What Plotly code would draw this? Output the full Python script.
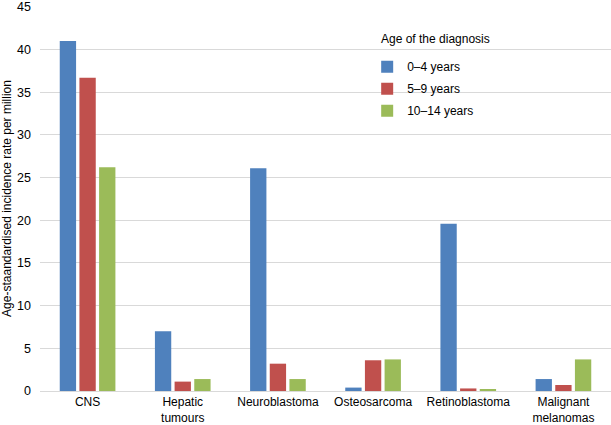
import plotly.graph_objects as go

categories = ["CNS", "Hepatic<br>tumours", "Neuroblastoma", "Osteosarcoma",
              "Retinoblastoma", "Malignant<br>melanomas"]
age_0_4 = [41.0, 7.0, 26.1, 0.4, 19.6, 1.4]
age_5_9 = [36.7, 1.1, 3.2, 3.6, 0.3, 0.7]
age_10_14 = [26.2, 1.4, 1.4, 3.7, 0.2, 3.7]

series = [
    ("0\u20134 years", age_0_4, "#4F81BD"),
    ("5\u20139 years", age_5_9, "#C0504D"),
    ("10\u201314 years", age_10_14, "#9BBB59"),
]

fig = go.Figure()
for name, values, color in series:
    fig.add_trace(
        go.Bar(
            x=categories,
            y=values,
            name=name,
            legendgroup=name,
            marker=dict(color=color, line=dict(width=0)),
        )
    )

fig.update_layout(
    width=611,
    height=425,
    margin=dict(l=40, r=0, t=6, b=34),
    paper_bgcolor="white",
    plot_bgcolor="white",
    font=dict(family="Liberation Sans, Arial, sans-serif", size=12, color="#000000"),
    barmode="group",
    bargap=0.38,
    bargroupgap=0.17,
    legend=dict(
        x=0.573,
        y=0.88,
        xanchor="left",
        yanchor="top",
        bgcolor="rgba(0,0,0,0)",
        font=dict(size=12),
        itemwidth=30,
        tracegroupgap=3,
    ),
    annotations=[
        dict(
            text="Age of the diagnosis",
            xref="paper",
            yref="paper",
            x=0.594,
            y=0.915,
            xanchor="left",
            yanchor="middle",
            showarrow=False,
            font=dict(size=12),
        )
    ],
)
fig.update_xaxes(
    showline=True,
    linecolor="#d9d9d9",
    linewidth=1,
    ticks="",
    automargin=False,
    tickfont=dict(size=12),
)
fig.update_yaxes(
    range=[0, 45.1],
    tickvals=list(range(0, 50, 5)),
    showgrid=True,
    gridcolor="#d9d9d9",
    zeroline=False,
    showline=False,
    ticks="",
    ticklabelstandoff=8,
    automargin=False,
    tickfont=dict(size=12.5),
    title=dict(text="Age-staandardised incidence rate per million", font=dict(size=12)),
)

# page body has a default 8px margin; drop it so the figure sits at the window corner
fig.write_html(
    "out.html",
    config={"displayModeBar": False},
    post_script="document.body.style.margin='0px';",
)
